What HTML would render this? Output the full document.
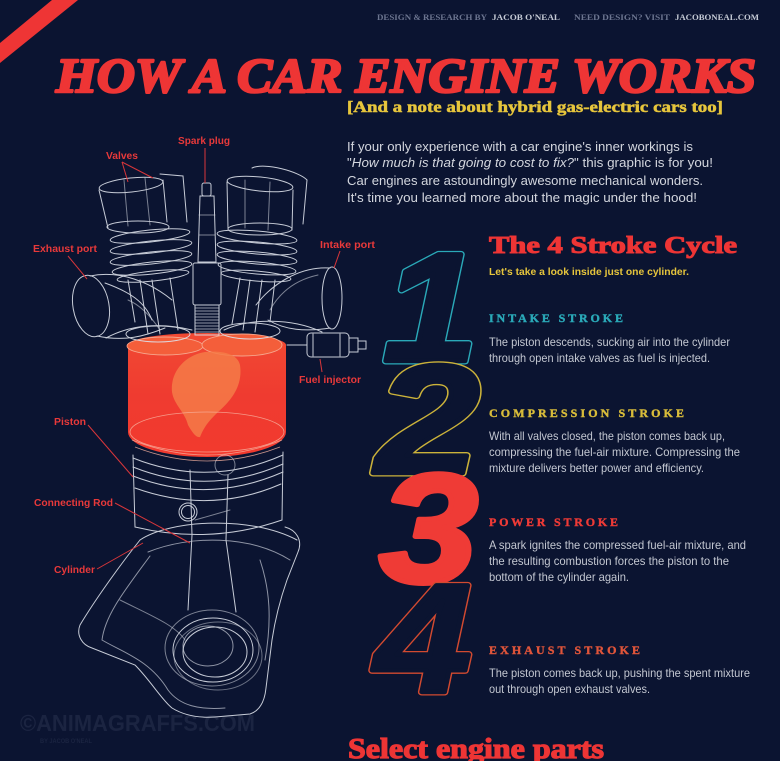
<!DOCTYPE html>
<html>
<head>
<meta charset="utf-8">
<style>
  html,body{margin:0;padding:0;background:#0b1431;}
  svg{display:block;}
</style>
</head>
<body>
<svg width="780" height="761" viewBox="0 0 780 761" xmlns="http://www.w3.org/2000/svg">
  <defs>
    <linearGradient id="redg" x1="0" y1="0" x2="0" y2="1">
      <stop offset="0" stop-color="#f14a33"/>
      <stop offset="0.5" stop-color="#ef3b30"/>
      <stop offset="1" stop-color="#f23a2e"/>
    </linearGradient>
  </defs>
  <rect width="780" height="761" fill="#0b1431"/>

  <!-- red stripe -->
  <polygon points="52,0 78,0 0,63 0,43" fill="#ee3535"/>

  <!-- header credits -->
  <g font-family="'Liberation Serif', serif" font-weight="bold" font-size="8.5">
    <text x="377" y="20" fill="#6c7590" textLength="110" lengthAdjust="spacingAndGlyphs">DESIGN &amp; RESEARCH BY</text>
    <text x="492" y="20" fill="#c6cbd6" textLength="68" lengthAdjust="spacingAndGlyphs">JACOB O'NEAL</text>
    <text x="574" y="20" fill="#6c7590" textLength="96" lengthAdjust="spacingAndGlyphs">NEED DESIGN? VISIT</text>
    <text x="675" y="20" fill="#c6cbd6" textLength="84" lengthAdjust="spacingAndGlyphs">JACOBONEAL.COM</text>
  </g>

  <!-- title -->
  <text x="56" y="92" fill="#ee3535" stroke="#ee3535" stroke-width="2.6" stroke-linejoin="round" font-family="'Liberation Serif', serif" font-weight="bold" font-style="italic" font-size="49" textLength="700" lengthAdjust="spacingAndGlyphs">HOW A CAR ENGINE WORKS</text>
  <text x="347" y="112" fill="#e6c53c" stroke="#e6c53c" stroke-width="0.5" font-family="'Liberation Serif', serif" font-weight="bold" font-size="16" textLength="376" lengthAdjust="spacingAndGlyphs">[And a note about hybrid gas-electric cars too]</text>

  <!-- intro -->
  <g font-family="'Liberation Sans', sans-serif" font-size="13" fill="#d3d6de">
    <text x="347" y="151" textLength="346" lengthAdjust="spacingAndGlyphs">If your only experience with a car engine's inner workings is</text>
    <text x="347" y="167" textLength="366" lengthAdjust="spacingAndGlyphs">"<tspan font-style="italic">How much is that going to cost to fix?</tspan>" this graphic is for you!</text>
    <text x="347" y="185" textLength="356" lengthAdjust="spacingAndGlyphs">Car engines are astoundingly awesome mechanical wonders.</text>
    <text x="347" y="202" textLength="350" lengthAdjust="spacingAndGlyphs">It's time you learned more about the magic under the hood!</text>
  </g>

  <!-- 4 stroke cycle heading -->
  <text x="489" y="253" fill="#ee3535" stroke="#ee3535" stroke-width="1" font-family="'Liberation Serif', serif" font-weight="bold" font-size="24" textLength="248" lengthAdjust="spacingAndGlyphs">The 4 Stroke Cycle</text>
  <text x="489" y="275" fill="#e6c53c" font-family="'Liberation Sans', sans-serif" font-weight="bold" font-size="10.5" textLength="200" lengthAdjust="spacingAndGlyphs">Let's take a look inside just one cylinder.</text>

  <!-- big numbers -->
  <g font-family="'Liberation Sans', sans-serif" font-weight="bold" font-style="italic" font-size="155" stroke-linejoin="round">
    <g transform="translate(383,361) scale(1.1,1)">
      <text x="0" y="0" fill="none" stroke="#2aa9b8" stroke-width="7">1</text>
      <text x="0" y="0" fill="#0b1431" stroke="#0b1431" stroke-width="4.4">1</text>
    </g>
    <g transform="translate(376,473) scale(1.2,1)">
      <text x="0" y="0" fill="none" stroke="#cbb23a" stroke-width="7">2</text>
      <text x="0" y="0" fill="#0b1431" stroke="#0b1431" stroke-width="4.4">2</text>
    </g>
    <g transform="translate(379,582) scale(1.15,1)">
      <text x="0" y="0" fill="#ef3b36" stroke="#ef3b36" stroke-width="5">3</text>
    </g>
    <g transform="translate(375,692) scale(1.12,1)">
      <text x="0" y="0" fill="none" stroke="#d24a30" stroke-width="7">4</text>
      <text x="0" y="0" fill="#0b1431" stroke="#0b1431" stroke-width="4.4">4</text>
    </g>
  </g>

  <!-- stroke titles -->
  <g font-family="'Liberation Serif', serif" font-weight="bold" font-size="12">
    <text x="489" y="322" fill="#2aa9b8" stroke="#2aa9b8" stroke-width="0.4" textLength="138" lengthAdjust="spacing" letter-spacing="4">INTAKE STROKE</text>
    <text x="489" y="417" fill="#d8bc3a" stroke="#d8bc3a" stroke-width="0.4" textLength="199" lengthAdjust="spacing" letter-spacing="4">COMPRESSION STROKE</text>
    <text x="489" y="526" fill="#ee3a36" stroke="#ee3a36" stroke-width="0.4" textLength="133" lengthAdjust="spacing" letter-spacing="4">POWER STROKE</text>
    <text x="489" y="654" fill="#e0553a" stroke="#e0553a" stroke-width="0.4" textLength="155" lengthAdjust="spacing" letter-spacing="4">EXHAUST STROKE</text>
  </g>

  <!-- body text -->
  <g font-family="'Liberation Sans', sans-serif" font-size="12" fill="#c3c7d1">
    <text x="489" y="346" textLength="241" lengthAdjust="spacingAndGlyphs">The piston descends, sucking air into the cylinder</text>
    <text x="489" y="362" textLength="221" lengthAdjust="spacingAndGlyphs">through open intake valves as fuel is injected.</text>

    <text x="489" y="440" textLength="236" lengthAdjust="spacingAndGlyphs">With all valves closed, the piston comes back up,</text>
    <text x="489" y="456" textLength="251" lengthAdjust="spacingAndGlyphs">compressing the fuel-air mixture. Compressing the</text>
    <text x="489" y="472" textLength="215" lengthAdjust="spacingAndGlyphs">mixture delivers better power and efficiency.</text>

    <text x="489" y="549" textLength="257" lengthAdjust="spacingAndGlyphs">A spark ignites the compressed fuel-air mixture, and</text>
    <text x="489" y="565" textLength="240" lengthAdjust="spacingAndGlyphs">the resulting combustion forces the piston to the</text>
    <text x="489" y="581" textLength="140" lengthAdjust="spacingAndGlyphs">bottom of the cylinder again.</text>

    <text x="489" y="677" textLength="261" lengthAdjust="spacingAndGlyphs">The piston comes back up, pushing the spent mixture</text>
    <text x="489" y="693" textLength="161" lengthAdjust="spacingAndGlyphs">out through open exhaust valves.</text>
  </g>

  <!-- select engine parts -->
  <text x="348" y="758" fill="#ee3535" stroke="#ee3535" stroke-width="1.2" font-family="'Liberation Serif', serif" font-weight="bold" font-size="28" textLength="256" lengthAdjust="spacingAndGlyphs">Select engine parts</text>

  <!-- watermark -->
  <text x="20" y="731" fill="#1b2441" font-family="'Liberation Sans', sans-serif" font-weight="bold" font-size="23" textLength="235" lengthAdjust="spacingAndGlyphs">©ANIMAGRAFFS.COM</text>
  <text x="40" y="743" fill="#1b2441" font-family="'Liberation Sans', sans-serif" font-weight="bold" font-size="6" textLength="52" lengthAdjust="spacingAndGlyphs">BY JACOB O'NEAL</text>

  <!-- ENGINE ILLUSTRATION -->
  <path d="M128,345 L128,432 A79,25 0 0 0 286,432 L286,345 A79,12 0 0 0 128,345 Z" fill="url(#redg)"/>
  <ellipse cx="165" cy="346" rx="38" ry="9" fill="#f45e3a" stroke="#f6a58c" stroke-width="0.9"/>
  <ellipse cx="242" cy="345" rx="40" ry="11" fill="#f45e3a" stroke="#f6a58c" stroke-width="0.9"/>
  <path d="M205,352 C185,355 170,372 172,392 C174,405 185,412 188,425 C192,432 196,438 200,437 C205,425 210,420 218,412 C232,400 243,385 240,365 C238,355 225,350 205,352 Z" fill="#f47b48" opacity="0.85"/>
  <g fill="none" stroke="#f7b2a0" stroke-width="0.8" opacity="0.8">
    <ellipse cx="207" cy="432" rx="77" ry="20"/>
    <path d="M132,440 Q207,470 282,440"/>
    <path d="M135,447 Q207,475 280,447"/>
  </g>

  <g fill="none" stroke="#dde1ea" stroke-width="1" stroke-linecap="round" opacity="0.9">
    <!-- exhaust port -->
    <ellipse cx="91" cy="306" rx="18" ry="31" transform="rotate(-10 91 306)"/>
    <path d="M90,276 C120,270 150,282 172,300"/>
    <path d="M97,336 C125,342 145,336 165,328"/>
    <path d="M105,283 C130,292 145,302 152,320"/>
    <path d="M128,300 C140,305 150,315 160,330" opacity="0.6"/>
    <!-- intake port -->
    <ellipse cx="332" cy="298" rx="10" ry="31"/>
    <path d="M330,268 C300,266 272,284 256,305"/>
    <path d="M330,328 C305,332 285,330 268,320"/>
    <path d="M318,275 C295,280 280,292 270,310" opacity="0.6"/>
    <!-- fuel injector -->
    <rect x="307" y="333" width="42" height="24" rx="4"/>
    <rect x="349" y="338" width="9" height="14"/>
    <rect x="358" y="341" width="8" height="8"/>
    <line x1="313" y1="334" x2="313" y2="356"/>
    <line x1="340" y1="334" x2="340" y2="356"/>
    <path d="M287,345 L307,345"/>
    <!-- cylinder head base -->
    <path d="M106,338 C130,325 160,322 192,330"/>
    <path d="M224,330 C250,318 292,318 322,332"/>
    <ellipse cx="158" cy="334" rx="32" ry="8"/>
    <ellipse cx="250" cy="331" rx="30" ry="8"/>

    <!-- left valve -->
    <path d="M99,190 L108,228"/>
    <path d="M163,180 L167,222"/>
    <ellipse cx="131" cy="185" rx="32" ry="7" transform="rotate(-6 131 185)"/>
    <path d="M160,174 L183,176 L187,222"/>
    <ellipse cx="138" cy="227" rx="31" ry="6"/>
    <line x1="124" y1="180" x2="128" y2="226" opacity="0.6"/>
    <line x1="145" y1="178" x2="150" y2="225" opacity="0.6"/>
    <ellipse cx="150" cy="236" rx="40" ry="6" transform="rotate(-6 150 236)"/>
    <ellipse cx="151" cy="247" rx="41" ry="6" transform="rotate(-6 151 247)"/>
    <ellipse cx="151" cy="258" rx="41" ry="6" transform="rotate(-6 151 258)"/>
    <ellipse cx="152" cy="268" rx="40" ry="6" transform="rotate(-6 152 268)"/>
    <ellipse cx="153" cy="276" rx="36" ry="5" transform="rotate(-6 153 276)"/>
    <line x1="140" y1="280" x2="148" y2="334"/>
    <line x1="152" y1="280" x2="160" y2="334"/>
    <line x1="170" y1="278" x2="178" y2="330"/>
    <line x1="128" y1="280" x2="135" y2="322"/>

    <!-- right valve -->
    <ellipse cx="260" cy="184" rx="33" ry="7" transform="rotate(6 260 184)"/>
    <path d="M227,182 L228,228"/>
    <path d="M293,190 L292,230"/>
    <path d="M252,168 C265,162 300,172 307,180 L303,224"/>
    <ellipse cx="260" cy="229" rx="32" ry="6"/>
    <line x1="245" y1="180" x2="245" y2="228" opacity="0.6"/>
    <line x1="270" y1="182" x2="268" y2="230" opacity="0.6"/>
    <ellipse cx="257" cy="237" rx="40" ry="6" transform="rotate(5 257 237)"/>
    <ellipse cx="257" cy="248" rx="40" ry="6" transform="rotate(5 257 248)"/>
    <ellipse cx="257" cy="258" rx="40" ry="6" transform="rotate(5 257 258)"/>
    <ellipse cx="257" cy="268" rx="39" ry="6" transform="rotate(5 257 268)"/>
    <ellipse cx="256" cy="276" rx="35" ry="5" transform="rotate(5 256 276)"/>
    <line x1="250" y1="280" x2="243" y2="330"/>
    <line x1="262" y1="280" x2="255" y2="332"/>
    <line x1="240" y1="278" x2="232" y2="324"/>
    <line x1="275" y1="280" x2="270" y2="322"/>

    <!-- spark plug -->
    <rect x="202" y="183" width="9" height="13" rx="2"/>
    <path d="M200,196 L214,196 L216,262 L198,262 Z"/>
    <path d="M199,215 L215,215 M199,235 L215,235" opacity="0.6"/>
    <rect x="193" y="263" width="28" height="42" rx="2"/>
    <rect x="195" y="305" width="24" height="30"/>
    <path d="M195,308 H219 M195,311 H219 M195,314 H219 M195,317 H219 M195,320 H219 M195,323 H219 M195,326 H219 M195,329 H219 M195,332 H219" opacity="0.7"/>

    <!-- piston body -->
    <line x1="133" y1="455" x2="135" y2="527"/>
    <line x1="283" y1="452" x2="282" y2="520"/>
    <path d="M133,458 Q208,488 283,455"/>
    <path d="M133,467 Q208,497 283,464"/>
    <path d="M133,476 Q208,505 283,472"/>
    <path d="M135,488 Q210,515 281,484"/>
    <path d="M135,527 Q210,545 282,520"/>
    <circle cx="188" cy="512" r="9"/>
    <circle cx="188" cy="512" r="6.5"/>
    <circle cx="225" cy="465" r="10" opacity="0.6"/>
    <!-- connecting rod -->
    <path d="M190,470 L192,535 L188,610"/>
    <path d="M228,475 L226,540 L236,612"/>
    <path d="M195,520 L230,510" opacity="0.6"/>

    <!-- crankcase -->
    <path d="M140,540 C120,565 95,600 80,625 C76,635 82,645 92,648 L135,665 C150,680 162,700 172,708 C185,716 200,718 215,717 L250,714 C262,710 265,698 266,688 L272,640 C275,620 280,600 287,580 L298,552 C303,540 296,530 285,527"/>
    <path d="M140,540 C170,520 250,515 297,540"/>
    <path d="M150,556 C125,590 105,615 102,640 C122,652 150,660 168,690 C180,706 200,710 225,708" opacity="0.7"/>
    <path d="M148,552 C190,535 250,535 290,560" opacity="0.7"/>
    <path d="M260,560 C270,590 272,620 265,660" opacity="0.7"/>
    <path d="M120,600 C150,615 175,625 185,640" opacity="0.6"/>
    <!-- crank circles -->
    <ellipse cx="213" cy="650" rx="40" ry="32"/>
    <ellipse cx="215" cy="652" rx="32" ry="25"/>
    <ellipse cx="212" cy="648" rx="47" ry="38" opacity="0.6"/>
    <ellipse cx="208" cy="646" rx="25" ry="20" opacity="0.7"/>
    <ellipse cx="218" cy="656" rx="44" ry="34" opacity="0.5"/>
  </g>

  <!-- labels -->
  <g font-family="'Liberation Sans', sans-serif" font-weight="bold" font-size="10" fill="#e8393a">
    <text x="178" y="144" textLength="52" lengthAdjust="spacingAndGlyphs">Spark plug</text>
    <text x="106" y="159" textLength="32" lengthAdjust="spacingAndGlyphs">Valves</text>
    <text x="33" y="252" textLength="64" lengthAdjust="spacingAndGlyphs">Exhaust port</text>
    <text x="320" y="248" textLength="55" lengthAdjust="spacingAndGlyphs">Intake port</text>
    <text x="299" y="383" textLength="62" lengthAdjust="spacingAndGlyphs">Fuel injector</text>
    <text x="54" y="425" textLength="32" lengthAdjust="spacingAndGlyphs">Piston</text>
    <text x="34" y="506" textLength="79" lengthAdjust="spacingAndGlyphs">Connecting Rod</text>
    <text x="54" y="573" textLength="41" lengthAdjust="spacingAndGlyphs">Cylinder</text>
  </g>
  <g stroke="#d8363a" stroke-width="1" fill="none">
    <line x1="205" y1="148" x2="205" y2="183"/>
    <line x1="122" y1="162" x2="128" y2="182"/>
    <line x1="122" y1="162" x2="153" y2="178"/>
    <line x1="68" y1="256" x2="87" y2="279"/>
    <line x1="340" y1="251" x2="334" y2="268"/>
    <line x1="322" y1="372" x2="320" y2="359"/>
    <line x1="88" y1="425" x2="133" y2="477"/>
    <line x1="115" y1="503" x2="190" y2="543"/>
    <line x1="97" y1="569" x2="143" y2="543"/>
  </g>
</svg>
</body>
</html>
